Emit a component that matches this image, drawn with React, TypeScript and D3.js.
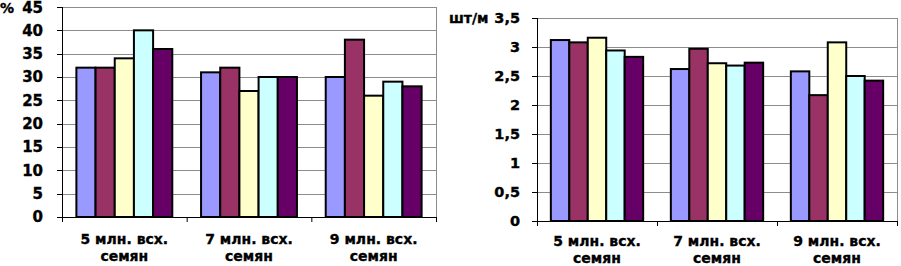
import React from "react";
import * as d3 from "d3";

const categories = ["5 млн. всх.|семян", "7 млн. всх.|семян", "9 млн. всх.|семян"];
const seriesColors = ["#9999FF", "#993366", "#FFFFCC", "#CCFFFF", "#660066"];

// left chart (%), rows = categories, columns = series
const leftValues = [
  [32, 32, 34, 40, 36],
  [31, 32, 27, 30, 30],
  [30, 38, 26, 29, 28],
];
const leftTicks = [0, 5, 10, 15, 20, 25, 30, 35, 40, 45];

// right chart (шт/м)
const rightValues = [
  [3.12, 3.08, 3.16, 2.94, 2.83],
  [2.62, 2.97, 2.72, 2.68, 2.73],
  [2.58, 2.17, 3.08, 2.5, 2.42],
];
const rightTicks = [0, 0.5, 1, 1.5, 2, 2.5, 3, 3.5];

const FONT = "'DejaVu Sans', sans-serif";
const TXT = { fontFamily: FONT, fontWeight: "bold" as const, fill: "#000", stroke: "#000", strokeWidth: 0.35 };

type PanelProps = {
  x0: number;
  x1: number;
  yTop: number;
  yBottom: number;
  values: number[][];
  ticks: number[];
  max: number;
  unit: string;
  unitX: number;
  unitY: number;
  fmt: (v: number) => string;
  tickFont: number;
  tickOffset: number;
  catFont: number;
  cat1: number;
  cat2: number;
};

function Panel(p: PanelProps) {
  const x = d3.scaleBand<string>().domain(categories).range([p.x0, p.x1]).paddingInner(0).paddingOuter(0);
  const y = d3.scaleLinear().domain([0, p.max]).range([p.yBottom, p.yTop]);
  // Excel gap width 150%: each side gap = 0.75 bar width
  const bw = x.bandwidth() / (seriesColors.length + 1.5);
  const gap = bw * 0.75;
  return (
    <g>
      {p.ticks.map((t) =>
        t === 0 ? null : (
          <line key={"g" + t} x1={p.x0} x2={p.x1} y1={Math.round(y(t)) + 0.5} y2={Math.round(y(t)) + 0.5} stroke="#8c8c8c" strokeWidth={1} />
        )
      )}
      <line x1={p.x1 + 0.5} x2={p.x1 + 0.5} y1={p.yTop} y2={p.yBottom} stroke="#8c8c8c" strokeWidth={1} />
      {categories.map((c, ci) =>
        p.values[ci].map((v, si) => {
          const bx = (x(c) as number) + gap + si * bw;
          return (
            <rect
              key={c + si}
              x={bx}
              y={y(v)}
              width={bw}
              height={y(0) - y(v)}
              fill={seriesColors[si]}
              stroke="#000"
              strokeWidth={2}
            />
          );
        })
      )}
      <line x1={p.x0 + 0.5} x2={p.x0 + 0.5} y1={p.yTop} y2={p.yBottom} stroke="#000" strokeWidth={1} />
      {p.ticks.map((t) => (
        <g key={"t" + t}>
          <line x1={p.x0 - 5} x2={p.x0} y1={Math.round(y(t)) + 0.5} y2={Math.round(y(t)) + 0.5} stroke="#000" />
          <text
            {...TXT}
            x={p.x0 - p.tickOffset}
            y={Math.max(y(t), p.tickFont * 0.5)}
            dy="0.36em"
            textAnchor="end"
            fontSize={p.tickFont}
          >
            {p.fmt(t)}
          </text>
        </g>
      ))}
      <text {...TXT} x={p.unitX} y={p.unitY} fontSize={14}>
        {p.unit}
      </text>
      <line x1={p.x0} x2={p.x1} y1={p.yBottom + 0.5} y2={p.yBottom + 0.5} stroke="#000" strokeWidth={1} />
      {categories.map((c, ci) => (
        <line key={"xt" + ci} x1={(x(c) as number) + 0.5} x2={(x(c) as number) + 0.5} y1={p.yBottom} y2={p.yBottom + 5} stroke="#000" />
      ))}
      <line x1={p.x1 + 0.5} x2={p.x1 + 0.5} y1={p.yBottom} y2={p.yBottom + 5} stroke="#000" />
      {categories.map((c) => {
        const [l1, l2] = c.split("|");
        const cx = (x(c) as number) + x.bandwidth() / 2;
        return (
          <text key={"cl" + c} {...TXT} textAnchor="middle" fontSize={p.catFont}>
            <tspan x={cx} y={p.yBottom + p.cat1}>{l1}</tspan>
            <tspan x={cx} y={p.yBottom + p.cat2}>{l2}</tspan>
          </text>
        );
      })}
    </g>
  );
}

export default function App() {
  return (
    <svg width={901} height={266} style={{ position: "absolute", left: 0, top: 0, background: "#fff" }}>
      <rect width={901} height={266} fill="#fff" />
      <Panel
        x0={62}
        x1={436}
        yTop={7}
        yBottom={217}
        values={leftValues}
        ticks={leftTicks}
        max={45}
        unit="%"
        unitX={0}
        unitY={13}
        fmt={(v) => String(v)}
        tickFont={15}
        tickOffset={19}
        catFont={14}
        cat1={27}
        cat2={44}
      />
      <Panel
        x0={537}
        x1={897}
        yTop={18}
        yBottom={221}
        values={rightValues}
        ticks={rightTicks}
        max={3.5}
        unit="шт/м"
        unitX={449}
        unitY={23}
        fmt={(v) => String(v).replace(".", ",")}
        tickFont={14.5}
        tickOffset={17}
        catFont={14}
        cat1={25}
        cat2={42}
      />
    </svg>
  );
}
